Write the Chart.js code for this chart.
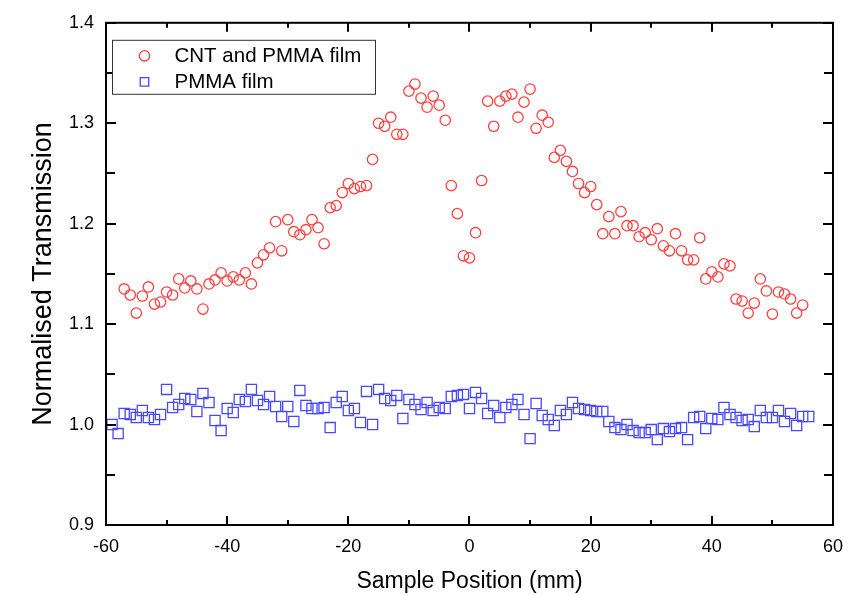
<!DOCTYPE html>
<html>
<head>
<meta charset="utf-8">
<script src="https://cdn.jsdelivr.net/npm/chart.js@4/dist/chart.umd.min.js"></script>
<style>
  html, body { margin: 0; padding: 0; background: #ffffff; }
  canvas { display: block; }
</style>
</head>
<body>
<canvas id="chart" width="854" height="595"></canvas>
<script>
// Sample positions (mm) and normalised transmission, CNT + PMMA film
const cntPositions = [
  -57, -56, -55, -54, -53, -52, -51, -50, -49, -48, -47, -46, -45, -44, -43, -42, -41, -40, -39, -38,
  -37, -36, -35, -34, -33, -32, -31, -30, -29, -28, -27, -26, -25, -24, -23, -22, -21, -20, -19, -18,
  -17, -16, -15, -14, -13, -12, -11, -10, -9, -8, -7, -6, -5, -4, -3, -2, -1, 0, 1, 2,
  3, 4, 5, 6, 7, 8, 9, 10, 11, 12, 13, 14, 15, 16, 17, 18, 19, 20, 21, 22,
  23, 24, 25, 26, 27, 28, 29, 30, 31, 32, 33, 34, 35, 36, 37, 38, 39, 40, 41, 42,
  43, 44, 45, 46, 47, 48, 49, 50, 51, 52, 53, 54, 55
];
const cntValues = [
  1.135, 1.129, 1.111, 1.128, 1.137, 1.120, 1.122, 1.132, 1.129, 1.145, 1.136, 1.143, 1.135, 1.115, 1.140, 1.144, 1.151, 1.143, 1.147, 1.144,
  1.151, 1.140, 1.161, 1.169, 1.176, 1.202, 1.173, 1.204, 1.192, 1.189, 1.194, 1.204, 1.196, 1.180, 1.216, 1.218, 1.231, 1.240, 1.235, 1.237,
  1.238, 1.264, 1.300, 1.297, 1.306, 1.289, 1.289, 1.332, 1.339, 1.325, 1.316, 1.327, 1.318, 1.303, 1.238, 1.210, 1.168, 1.166, 1.191, 1.243,
  1.322, 1.297, 1.322, 1.327, 1.329, 1.306, 1.321, 1.334, 1.295, 1.308, 1.301, 1.266, 1.273, 1.262, 1.252, 1.240, 1.231, 1.237, 1.219, 1.190,
  1.207, 1.190, 1.212, 1.198, 1.198, 1.187, 1.191, 1.184, 1.195, 1.178, 1.173, 1.190, 1.173, 1.164, 1.164, 1.186, 1.145, 1.152, 1.147, 1.160,
  1.158, 1.125, 1.123, 1.111, 1.121, 1.145, 1.133, 1.110, 1.132, 1.130, 1.125, 1.111, 1.119
];

// Sample positions (mm) and normalised transmission, bare PMMA film
const pmmaPositions = [
  -59, -58, -57, -56, -55, -54, -53, -52, -51, -50, -49, -48, -47, -46, -45, -44, -43, -42, -41, -40,
  -39, -38, -37, -36, -35, -34, -33, -32, -31, -30, -29, -28, -27, -26, -25, -24, -23, -22, -21, -20,
  -19, -18, -17, -16, -15, -14, -13, -12, -11, -10, -9, -8, -7, -6, -5, -4, -3, -2, -1, 0,
  1, 2, 3, 4, 5, 6, 7, 8, 9, 10, 11, 12, 13, 14, 15, 16, 17, 18, 19, 20,
  21, 22, 23, 24, 25, 26, 27, 28, 29, 30, 31, 32, 33, 34, 35, 36, 37, 38, 39, 40,
  41, 42, 43, 44, 45, 46, 47, 48, 49, 50, 51, 52, 53, 54, 55, 56
];
const pmmaValues = [
  1.000, 0.991, 1.011, 1.010, 1.007, 1.014, 1.007, 1.005, 1.010, 1.035, 1.017, 1.020, 1.026, 1.025, 1.013, 1.031, 1.022, 1.004, 0.994, 1.016,
  1.012, 1.025, 1.023, 1.035, 1.024, 1.020, 1.028, 1.018, 1.008, 1.018, 1.003, 1.034, 1.019, 1.016, 1.016, 1.017, 0.997, 1.022, 1.028, 1.014,
  1.016, 1.002, 1.033, 1.000, 1.035, 1.026, 1.024, 1.029, 1.006, 1.025, 1.020, 1.015, 1.022, 1.014, 1.017, 1.016, 1.028, 1.029, 1.030, 1.016,
  1.032, 1.026, 1.011, 1.019, 1.007, 1.017, 1.020, 1.025, 1.010, 0.986, 1.021, 1.009, 1.005, 0.999, 1.014, 1.010, 1.022, 1.016, 1.015, 1.014,
  1.013, 1.013, 1.003, 0.997, 0.995, 1.000, 0.994, 0.992, 0.992, 0.995, 0.985, 0.996, 0.993, 0.996, 0.997, 0.985, 1.007, 1.008, 0.996, 1.006,
  1.005, 1.017, 1.010, 1.007, 1.004, 1.005, 0.998, 1.014, 1.007, 1.007, 1.014, 1.003, 1.011, 0.999, 1.008, 1.008
];

// Axis ticks
const xTicks = [-60, -40, -20, 0, 20, 40, 60];
const xMinorTicks = [-50, -30, -10, 10, 30, 50];
const yTicks = [0.9, 1.0, 1.1, 1.2, 1.3, 1.4];
const yMinorTicks = [0.95, 1.05, 1.15, 1.25, 1.35];

const seriesLabels = ['CNT and PMMA film', 'PMMA film'];

const FONT = '"Liberation Sans", Arial, Helvetica, sans-serif';

const toPoints = (xs, ys) => xs.map((x, i) => ({ x: x, y: ys[i] }));

// Frame with inward tick marks on all four sides
const framePlugin = {
  id: 'frame',
  afterDraw(chart) {
    const { ctx, chartArea: a, scales } = chart;
    const xs = scales.x, ys = scales.y;
    ctx.save();
    ctx.strokeStyle = '#000';
    ctx.lineWidth = 2;
    ctx.lineCap = 'butt';
    ctx.beginPath();
    const mark = (x1, y1, x2, y2) => { ctx.moveTo(x1, y1); ctx.lineTo(x2, y2); };
    xTicks.forEach(v => {
      const px = Math.round(xs.getPixelForValue(v));
      mark(px, a.bottom, px, a.bottom - 9);
      mark(px, a.top, px, a.top + 9);
    });
    xMinorTicks.forEach(v => {
      const px = Math.round(xs.getPixelForValue(v));
      mark(px, a.bottom, px, a.bottom - 5);
      mark(px, a.top, px, a.top + 5);
    });
    yTicks.concat(yMinorTicks).forEach(v => {
      const py = Math.round(ys.getPixelForValue(v));
      const len = yTicks.includes(v) ? 10 : 9;
      mark(a.left, py, a.left + len, py);
      mark(a.right, py, a.right - len, py);
    });
    ctx.stroke();
    ctx.strokeRect(a.left, a.top, a.right - a.left, a.bottom - a.top);
    ctx.restore();
  }
};

// Boxed legend in the upper-left corner of the plot
const boxLegendPlugin = {
  id: 'boxLegend',
  afterDraw(chart) {
    const { ctx, chartArea: a } = chart;
    const bx = a.left + 6.5, by = a.top + 17.5, bw = 263, bh = 54;
    ctx.save();
    ctx.fillStyle = '#ffffff';
    ctx.fillRect(bx, by, bw, bh);
    ctx.strokeStyle = '#333';
    ctx.lineWidth = 1;
    ctx.strokeRect(bx, by, bw, bh);
    chart.data.datasets.forEach((ds, i) => {
      const cy = by + 15.5 + i * 26;
      ctx.strokeStyle = ds.borderColor;
      ctx.fillStyle = 'rgba(0,0,0,0)';
      ctx.lineWidth = ds.borderWidth;
      Chart.helpers.drawPoint(ctx, {
        pointStyle: ds.pointStyle,
        radius: ds.pointStyle === 'rect' ? 6 : 5.2,
        borderWidth: ds.borderWidth,
        rotation: 0
      }, bx + 32, cy);
      ctx.fillStyle = '#000';
      ctx.font = '20.5px ' + FONT;
      ctx.textBaseline = 'middle';
      ctx.textAlign = 'left';
      ctx.fillText(ds.label, bx + 62, cy + 1);
    });
    ctx.restore();
  }
};

new Chart(document.getElementById('chart'), {
  type: 'scatter',
  data: {
    datasets: [
      {
        label: seriesLabels[0],
        data: toPoints(cntPositions, cntValues),
        pointStyle: 'circle',
        pointRadius: 5.2,
        borderColor: '#ff4040',
        backgroundColor: 'rgba(0,0,0,0)',
        borderWidth: 1.3
      },
      {
        label: seriesLabels[1],
        data: toPoints(pmmaPositions, pmmaValues),
        pointStyle: 'rect',
        pointRadius: 7.2,
        borderColor: '#4848ff',
        backgroundColor: 'rgba(0,0,0,0)',
        borderWidth: 1.3
      }
    ]
  },
  options: {
    responsive: false,
    animation: false,
    devicePixelRatio: 1,
    layout: { padding: { top: 22, right: 16, left: 0, bottom: 0 } },
    plugins: {
      legend: { display: false },
      tooltip: { enabled: false }
    },
    scales: {
      x: {
        type: 'linear',
        min: -60,
        max: 60,
        afterBuildTicks: s => { s.ticks = xTicks.map(v => ({ value: v })); },
        afterFit: s => { s.height = 70; },
        grid: { display: false, drawTicks: false },
        border: { display: false },
        ticks: {
          color: '#000',
          padding: 11,
          maxRotation: 0,
          autoSkip: false,
          font: { family: FONT, size: 18 },
          callback: v => String(v)
        },
        title: {
          display: true,
          text: 'Sample Position (mm)',
          color: '#000',
          font: { family: FONT, size: 23 },
          padding: { top: 0, bottom: 0 }
        }
      },
      y: {
        type: 'linear',
        min: 0.9,
        max: 1.4,
        afterBuildTicks: s => { s.ticks = yTicks.map(v => ({ value: v })); },
        afterFit: s => { s.width = 106; },
        grid: { display: false, drawTicks: false },
        border: { display: false },
        ticks: {
          color: '#000',
          padding: 12,
          autoSkip: false,
          font: { family: FONT, size: 18 },
          callback: v => Number(v).toFixed(1)
        },
        title: {
          display: true,
          text: 'Normalised Transmission',
          color: '#000',
          font: { family: FONT, size: 27 },
          padding: { top: 27, bottom: 0 }
        }
      }
    }
  },
  plugins: [framePlugin, boxLegendPlugin]
});
</script>
</body>
</html>
